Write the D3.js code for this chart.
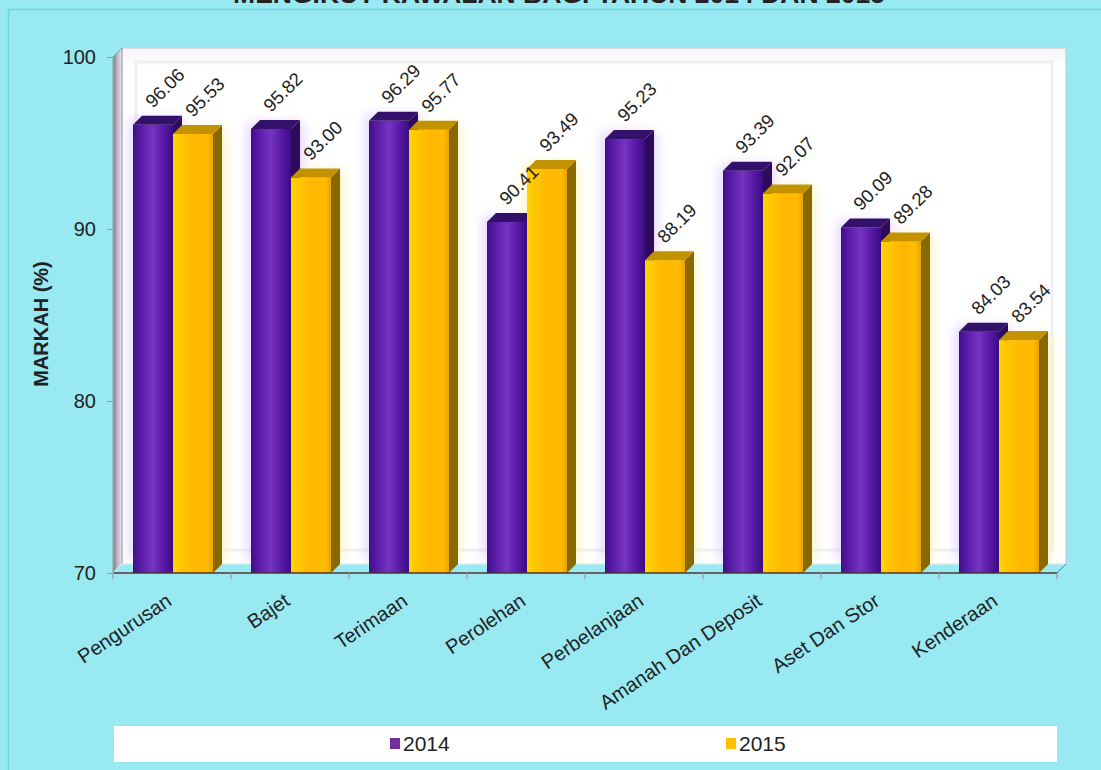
<!DOCTYPE html>
<html>
<head>
<meta charset="utf-8">
<script src="https://cdn.jsdelivr.net/npm/d3@7"></script>
<style>
  html, body { margin: 0; padding: 0; background: #98e9f2; }
  svg { display: block; }
  text { font-family: "Liberation Sans", Arial, sans-serif; fill: #222; }
</style>
</head>
<body>
<svg id="chart" width="1101" height="770"></svg>
<script>
// Categories and scores (%)
const categories = ["Pengurusan", "Bajet", "Terimaan", "Perolehan", "Perbelanjaan",
  "Amanah Dan Deposit", "Aset Dan Stor", "Kenderaan"];
const seriesNames = ["2014", "2015"];
const values2014 = [96.06, 95.82, 96.29, 90.41, 95.23, 93.39, 90.09, 84.03];
const values2015 = [95.53, 93.00, 95.77, 93.49, 88.19, 92.07, 89.28, 83.54];
const yTicks = [70, 80, 90, 100];
const titleText = "MENGIKUT KAWALAN BAGI TAHUN 2014 DAN 2015";
const yTitle = "MARKAH (%)";

const svg = d3.select("#chart");
const W = 1101, H = 770;

// Plot frame (front plane) and 3D depth offsets
const pLeft = 113, pRight = 1057, pTop = 57, pBottom = 573;
const dx = 9, dy = -9;

const y = d3.scaleLinear().domain([70, 100]).range([pBottom, pTop]);
const x = d3.scaleBand().domain(categories).range([pLeft, pRight]);
const xs = d3.scaleBand().domain(seriesNames).range([-39, 41]);

const defs = svg.append("defs");
function hGrad(id, stops) {
  const g = defs.append("linearGradient").attr("id", id)
    .attr("x1", "0%").attr("x2", "100%").attr("y1", "0%").attr("y2", "0%");
  stops.forEach(s => g.append("stop").attr("offset", s[0]).attr("stop-color", s[1]));
}
hGrad("gPurple", [[0, "#3f0e86"], [0.25, "#5f1fae"], [0.5, "#7634bf"], [0.75, "#5a1aa9"], [1, "#3a0d80"]]);
hGrad("gYellow", [[0, "#ffd400"], [0.2, "#ffc600"], [0.55, "#ffb600"], [0.85, "#ffbd00"], [1, "#e9a200"]]);
hGrad("gLeftWall", [[0, "#7f7a84"], [0.5, "#bdb6c4"], [1, "#ece6f2"]]);
const vg = defs.append("linearGradient").attr("id", "gBackWall")
  .attr("x1", "0%").attr("x2", "0%").attr("y1", "0%").attr("y2", "100%");
vg.append("stop").attr("offset", 0).attr("stop-color", "#f4f4f6");
vg.append("stop").attr("offset", 0.04).attr("stop-color", "#ffffff");
vg.append("stop").attr("offset", 1).attr("stop-color", "#ffffff");
defs.append("filter").attr("id", "halo").attr("x", "-50%").attr("y", "-20%")
  .attr("width", "200%").attr("height", "140%")
  .append("feGaussianBlur").attr("stdDeviation", 6);

const styles = {
  "2014": { front: "url(#gPurple)", side: "#2c0a5c", top: "#33106a", key: "#7030a0", halo: "#dcc4ff" },
  "2015": { front: "url(#gYellow)", side: "#8a6800", top: "#c39200", key: "#ffc000", halo: "#fff0b0" }
};

// Chart-area border (left and top edges visible)
svg.append("rect").attr("x", 8.5).attr("y", 9.5).attr("width", W + 20).attr("height", H)
  .attr("fill", "none").attr("stroke", "#6ad6e2").attr("stroke-width", 1.5);

// Title (second line of the heading)
svg.append("text").attr("x", 559).attr("y", 3).attr("text-anchor", "middle")
  .attr("font-size", 26.5).attr("font-weight", "bold").text(titleText);

// Back wall
svg.append("rect").attr("x", pLeft + dx).attr("y", pTop + dy)
  .attr("width", pRight - pLeft).attr("height", pBottom - pTop)
  .attr("fill", "url(#gBackWall)").attr("stroke", "#c8c8cc").attr("stroke-width", 1);
svg.append("rect").attr("x", pLeft + dx + 14).attr("y", pTop + dy + 14)
  .attr("width", pRight - pLeft - 28).attr("height", pBottom - pTop - 28)
  .attr("fill", "none").attr("stroke", "#efeff2").attr("stroke-width", 3);

// Left wall
svg.append("polygon")
  .attr("points", [[pLeft, pTop], [pLeft + dx, pTop + dy], [pLeft + dx, pBottom + dy], [pLeft, pBottom]].join(" "))
  .attr("fill", "url(#gLeftWall)").attr("stroke", "#8d8a90").attr("stroke-width", 0.8);

// Bar records
const data = [];
categories.forEach((c, i) => {
  data.push({ cat: c, s: "2014", v: values2014[i] });
  data.push({ cat: c, s: "2015", v: values2015[i] });
});
const bw = xs.bandwidth();

// Soft glow behind the bars on the back wall
const haloG = svg.append("g").attr("filter", "url(#halo)").attr("opacity", 0.8);
data.forEach(d => {
  const x0 = x(d.cat) + x.bandwidth() / 2 + xs(d.s);
  haloG.append("rect").attr("x", x0 - 3).attr("y", y(d.v) - 6)
    .attr("width", bw + dx + 6).attr("height", pBottom - y(d.v) - 6)
    .attr("fill", styles[d.s].halo);
});

// Floor
svg.append("polygon")
  .attr("points", [[pLeft, pBottom], [pLeft + dx, pBottom + dy], [pRight + dx, pBottom + dy], [pRight, pBottom]].join(" "))
  .attr("fill", "#98e9f2").attr("stroke", "#e8f8fa").attr("stroke-width", 1);

// Bars: side, front and top faces
const barG = svg.append("g");
data.forEach(d => {
  const cx = x(d.cat) + x.bandwidth() / 2;
  const x0 = cx + xs(d.s);
  const yt = y(d.v);
  const st = styles[d.s];
  const g = barG.append("g");
  g.append("polygon")
    .attr("points", [[x0 + bw, yt], [x0 + bw + dx, yt + dy], [x0 + bw + dx, pBottom + dy], [x0 + bw, pBottom]].join(" "))
    .attr("fill", st.side);
  g.append("rect").attr("x", x0).attr("y", yt).attr("width", bw).attr("height", pBottom - yt)
    .attr("fill", st.front);
  g.append("polygon")
    .attr("points", [[x0, yt], [x0 + dx, yt + dy], [x0 + bw + dx, yt + dy], [x0 + bw, yt]].join(" "))
    .attr("fill", st.top);
});

// Value labels
data.forEach(d => {
  const cx = x(d.cat) + x.bandwidth() / 2;
  const bx = cx + xs(d.s) + bw / 2;
  const by = y(d.v) - 16;
  svg.append("text").attr("transform", `translate(${bx},${by}) rotate(-45)`)
    .attr("font-size", 18.5).text(d.v.toFixed(2));
});

// Front axis lines
svg.append("line").attr("x1", pLeft).attr("x2", pRight).attr("y1", pBottom).attr("y2", pBottom)
  .attr("stroke", "#4a3030").attr("stroke-width", 1.5);
svg.append("line").attr("x1", pRight).attr("x2", pRight + dx).attr("y1", pBottom).attr("y2", pBottom + dy)
  .attr("stroke", "#777").attr("stroke-width", 1);

// Y axis
const yAxis = d3.axisLeft(y).tickValues(yTicks).tickSize(6).tickPadding(11);
const ya = svg.append("g").attr("transform", `translate(${pLeft},0)`).call(yAxis);
ya.select(".domain").attr("stroke", "#999");
ya.selectAll(".tick line").attr("stroke", "#999");
ya.selectAll(".tick text").attr("font-size", 20).attr("fill", "#222")
  .attr("font-family", "Liberation Sans, Arial, sans-serif");

// X axis ticks at category boundaries
const bounds = categories.map(c => x(c)).concat([pRight]);
svg.selectAll(".xtick").data(bounds).enter().append("line")
  .attr("x1", d => d).attr("x2", d => d).attr("y1", pBottom).attr("y2", pBottom + 6)
  .attr("stroke", "#999").attr("stroke-width", 1.2);

// Category labels
categories.forEach(c => {
  const cx = x(c) + x.bandwidth() / 2;
  svg.append("text").attr("transform", `translate(${cx + 1},${pBottom + 31}) rotate(-34)`)
    .attr("text-anchor", "end").attr("font-size", 20).text(c);
});

// Y axis title
svg.append("text").attr("transform", "translate(48,324) rotate(-90)")
  .attr("text-anchor", "middle").attr("font-size", 20).attr("font-weight", "bold").text(yTitle);

// Legend
svg.append("rect").attr("x", 114).attr("y", 726).attr("width", 943).attr("height", 36).attr("fill", "#fff");
const legX = { "2014": 390, "2015": 726 };
seriesNames.forEach(s => {
  svg.append("rect").attr("x", legX[s]).attr("y", 738).attr("width", 10).attr("height", 11)
    .attr("fill", styles[s].key);
  svg.append("text").attr("x", legX[s] + 13).attr("y", 751).attr("font-size", 21).text(s);
});
</script>
</body>
</html>
